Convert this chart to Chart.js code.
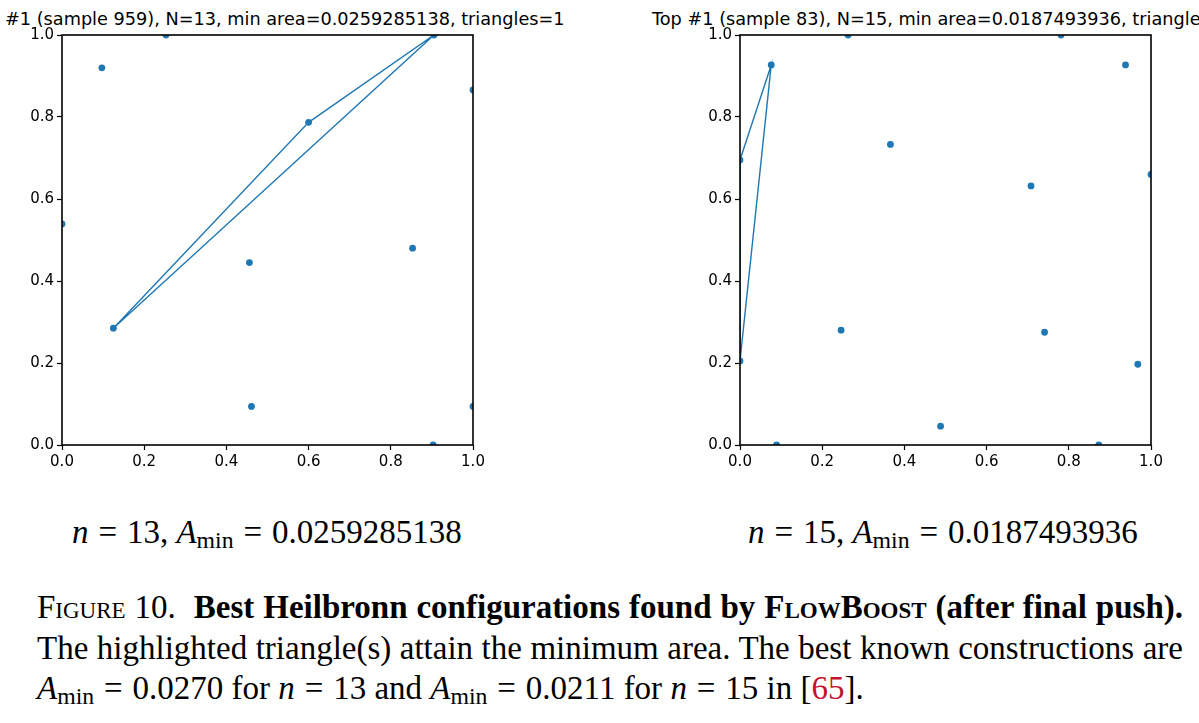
<!DOCTYPE html>
<html>
<head>
<meta charset="utf-8">
<script src="https://cdn.jsdelivr.net/npm/chart.js@4.4.1/dist/chart.umd.min.js"></script>
<style>
  html, body { margin: 0; padding: 0; background: #fff; width: 1199px; height: 723px; overflow: hidden; position: relative; }
  canvas { position: absolute; top: 0; }
  .ttl { position: absolute; top: 9px; font-family: "DejaVu Sans", sans-serif; font-size: 17.7px; line-height: 20px; color: #000; white-space: nowrap; }
  .res { position: absolute; top: 513px; font-family: "Liberation Serif", serif; font-size: 33px; line-height: 39px; color: #000; white-space: nowrap; }
  .res sub, #caption sub { font-size: 0.72em; line-height: 0; vertical-align: -0.22em; }
  .eq { margin: 0 0.05em; }
  #caption { position: absolute; left: 37px; top: 587px; width: 1146px; font-family: "Liberation Serif", serif; font-size: 33px; line-height: 40.5px; color: #000; }
  #caption .ln { text-align: justify; text-align-last: justify; }
  #caption .last { text-align: left; }
  .sc { font-variant: small-caps; }
  .ref { color: #c4122f; }
</style>
</head>
<body>
<div class="ttl" style="left:5px">#1 (sample 959), N=13, min area=0.0259285138, triangles=1</div>
<div class="ttl" style="left:652px">Top #1 (sample 83), N=15, min area=0.0187493936, triangles=1</div>

<canvas id="chart-n13" width="493" height="480" style="left:0px"></canvas>
<canvas id="chart-n15" width="493" height="480" style="left:678px"></canvas>

<div class="res" style="left:72px"><i>n</i> <span class="eq">=</span> 13, <i>A</i><sub>min</sub> <span class="eq">=</span> 0.0259285138</div>
<div class="res" style="left:748px"><i>n</i> <span class="eq">=</span> 15, <i>A</i><sub>min</sub> <span class="eq">=</span> 0.0187493936</div>

<div id="caption">
  <div class="ln"><span class="sc">Figure</span> 10.&nbsp; <b>Best Heilbronn configurations found by <span class="sc">FlowBoost</span> (after final push).</b></div>
  <div class="ln">The highlighted triangle(s) attain the minimum area. The best known constructions are</div>
  <div class="last"><i>A</i><sub>min</sub> <span class="eq">=</span> 0.0270 for <i>n</i> <span class="eq">=</span> 13 and <i>A</i><sub>min</sub> <span class="eq">=</span> 0.0211 for <i>n</i> <span class="eq">=</span> 15 in [<span class="ref">65</span>].</div>
</div>

<script>
"use strict";
const BLUE = "#1f77b4";

// N=13 configuration (sample 959)
const N13_X = [0.253, 0.097, 0.905, 1.000, 0.600, 0.000, 0.853, 0.456, 0.125, 0.461, 1.000, 0.903];
const N13_Y = [1.000, 0.920, 1.000, 0.866, 0.787, 0.539, 0.480, 0.445, 0.285, 0.094, 0.094, 0.000];
const N13_TRI_X = [0.125, 0.600, 0.905, 0.125];
const N13_TRI_Y = [0.285, 0.787, 1.000, 0.285];

// N=15 configuration (sample 83)
const N15_X = [0.000, 0.076, 0.263, 0.366, 0.708, 0.781, 0.938, 1.000, 0.000, 0.246, 0.741, 0.968, 0.488, 0.089, 0.873];
const N15_Y = [0.695, 0.927, 1.000, 0.733, 0.632, 1.000, 0.927, 0.660, 0.205, 0.280, 0.275, 0.197, 0.046, 0.000, 0.000];
const N15_TRI_X = [0.000, 0.076, 0.000, 0.000];
const N15_TRI_Y = [0.695, 0.927, 0.205, 0.695];

const TICKS = [0, 0.2, 0.4, 0.6, 0.8, 1.0];

const toPts = (xs, ys) => xs.map((x, i) => ({ x, y: ys[i] }));

// black frame around the plot area (matplotlib spines)
const framePlugin = {
  id: "frame",
  afterDatasetsDraw(chart) {
    const a = chart.chartArea, c = chart.ctx;
    c.save();
    c.strokeStyle = "#000";
    c.lineWidth = 1.6;
    c.strokeRect(a.left, a.top, a.right - a.left, a.bottom - a.top);
    c.restore();
  },
};

function axis(fitFn) {
  return {
    type: "linear",
    min: 0,
    max: 1,
    afterBuildTicks: s => { s.ticks = TICKS.map(v => ({ value: v })); },
    ticks: {
      callback: v => Number(v).toFixed(1),
      color: "#000",
      font: { family: "'DejaVu Sans'", size: 15 },
      padding: 3,
      maxRotation: 0,
      autoSkip: false,
    },
    grid: { drawOnChartArea: false, drawTicks: true, tickLength: 5, color: "#000", tickWidth: 1.2 },
    border: { display: false },
    afterFit: fitFn,
  };
}

function renderConfig(id, xs, ys, triX, triY) {
  const ctx = document.getElementById(id);
  return new Chart(ctx, {
    type: "scatter",
    data: {
      datasets: [
        {
          data: toPts(triX, triY),
          showLine: true,
          borderColor: BLUE,
          borderWidth: 1.4,
          pointRadius: 0,
          fill: false,
          clip: 0,
          order: 0,
        },
        {
          data: toPts(xs, ys),
          backgroundColor: BLUE,
          borderWidth: 0,
          pointRadius: 3.4,
          clip: 0,
          order: 1,
        },
      ],
    },
    options: {
      responsive: false,
      animation: false,
      devicePixelRatio: 1,
      layout: { padding: { left: 0, top: 35, right: 20, bottom: 0 } },
      plugins: { legend: { display: false }, tooltip: { enabled: false }, title: { display: false } },
      scales: {
        x: axis(s => { s.height = 35; }),
        y: axis(s => { s.width = 62; }),
      },
    },
    plugins: [framePlugin],
  });
}

renderConfig("chart-n13", N13_X, N13_Y, N13_TRI_X, N13_TRI_Y);
renderConfig("chart-n15", N15_X, N15_Y, N15_TRI_X, N15_TRI_Y);
</script>
</body>
</html>
